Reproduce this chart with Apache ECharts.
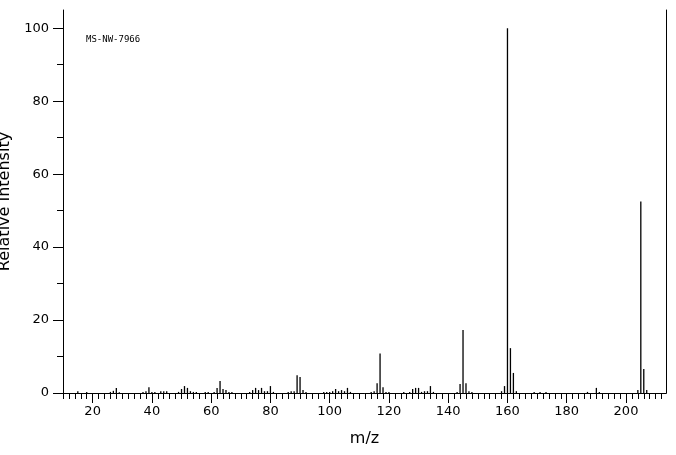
<!DOCTYPE html>
<html><head><meta charset="utf-8">
<script src="https://cdn.jsdelivr.net/npm/echarts@6/dist/echarts.min.js"></script>
<style>html,body{margin:0;padding:0;background:#fff}#c{width:676px;height:455px}</style>
</head><body><div id="c"></div>
<script>
const mz = [15,18,26,27,28,29,37,38,39,40,41,43,44,45,49,50,51,52,53,54,55,58,59,61,62,63,64,65,66,67,73,74,75,76,77,78,79,80,81,86,87,88,89,90,91,92,98,99,100,101,102,103,104,105,106,107,114,115,116,117,118,119,120,125,127,128,129,130,131,132,133,134,135,143,144,145,146,147,148,158,159,160,161,162,163,169,171,173,187,190,191,204,205,206,207];
const intensity = [0.5,0.3,0.3,0.6,1.4,0.2,0.3,0.5,1.6,0.3,0.3,0.5,0.5,0.5,0.3,1.1,1.9,1.4,0.5,0.3,0.3,0.3,0.3,0.3,1.4,3.3,1.1,0.8,0.3,0.3,0.3,0.8,1.4,0.8,1.4,0.5,0.5,1.9,0.3,0.3,0.5,0.5,4.9,4.4,0.8,0.3,0.3,0.3,0.3,0.5,1.1,0.5,0.8,0.5,1.4,0.3,0.3,0.5,2.7,10.8,1.6,0.3,0.3,0.3,0.3,1.1,1.4,1.4,0.3,0.5,0.5,1.9,0.3,0.3,2.5,17.3,2.7,0.5,0.3,0.5,1.9,100,12.3,5.5,0.5,0.3,0.3,0.3,0.3,1.4,0.3,0.8,52.5,6.6,0.8];
const xMajor = [20,40,60,80,100,120,140,160,180,200];
const yMajor = [0,20,40,60,80,100];
const title = 'MS-NW-7966';
const xMinor = []; for (let v = 10; v <= 212; v += 2) if (!xMajor.includes(v)) xMinor.push(v);
const yMinor = [10,30,50,70,90];
const X0 = 10, X1 = 213.5, Y1 = 105;
const font = 'DejaVu Sans';
const axLine = {show:true,lineStyle:{color:'#000',width:1}};
const chart = echarts.init(document.getElementById('c'));
chart.setOption({
  animation:false,
  grid:{left:63,right:10,top:10,bottom:62,containLabel:false,outerBoundsMode:'none'},
  graphic:[{type:'text',left:86,top:35,style:{text:title,font:'9px "DejaVu Sans Mono"',fill:'#000'}}],
  xAxis:[
    {type:'value',min:X0,max:X1,position:'bottom',axisLine:axLine,splitLine:{show:false},
     axisTick:{length:10,lineStyle:{color:'#000'},customValues:xMajor},
     axisLabel:{customValues:xMajor,color:'#000',fontFamily:font,fontSize:13,margin:12},
     name:'m/z',nameLocation:'middle',nameGap:38,nameTextStyle:{color:'#000',fontFamily:font,fontSize:16}},
    {type:'value',min:X0,max:X1,position:'bottom',axisLine:{show:false},splitLine:{show:false},
     axisTick:{length:6,lineStyle:{color:'#000'},customValues:xMinor},
     axisLabel:{show:false,customValues:xMinor}},
    {type:'value',min:X0,max:X1,position:'top',axisLine:axLine,axisTick:{show:false},axisLabel:{show:false},splitLine:{show:false}}
  ],
  yAxis:[
    {type:'value',min:0,max:Y1,position:'left',axisLine:axLine,splitLine:{show:false},
     axisTick:{show:true,length:10,lineStyle:{color:'#000'},customValues:yMajor},
     axisLabel:{customValues:yMajor,color:'#000',fontFamily:font,fontSize:13,margin:14},
     name:'Relative Intensity',nameLocation:'middle',nameGap:42,nameTextStyle:{color:'#000',fontFamily:font,fontSize:16}},
    {type:'value',min:0,max:Y1,position:'left',axisLine:{show:false},splitLine:{show:false},
     axisTick:{show:true,length:6,lineStyle:{color:'#000'},customValues:yMinor},
     axisLabel:{show:false,customValues:yMinor}},
    {type:'value',min:0,max:Y1,position:'right',axisLine:axLine,axisTick:{show:false},axisLabel:{show:false},splitLine:{show:false}}
  ],
  series:[{type:'bar',xAxisIndex:0,yAxisIndex:0,barWidth:1.3,itemStyle:{color:'#000'},
    data:mz.map((m,i)=>[m,intensity[i]])}]
});
</script></body></html>
